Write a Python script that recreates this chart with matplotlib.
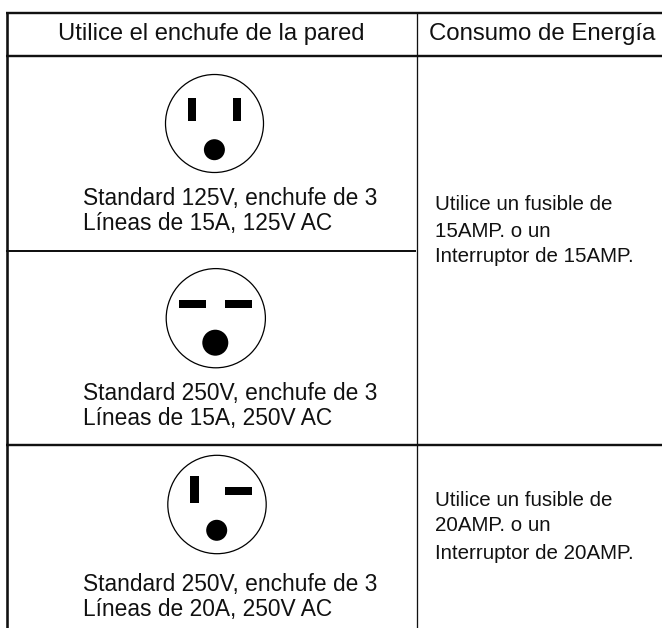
import matplotlib.pyplot as plt
from matplotlib.patches import Circle, Rectangle

plt.rc('font', family='Liberation Sans')

## data (all in picture pixels, y going down)
header_labels = ["Utilice el enchufe de la pared", "Consumo de Energía"]
header_x = [58, 429]
header_sizes = [17.1, 17.25]
header_y = 40

socket_labels = [
    ["Standard 125V, enchufe de 3", "Líneas de 15A, 125V AC"],
    ["Standard 250V, enchufe de 3", "Líneas de 15A, 250V AC"],
    ["Standard 250V, enchufe de 3", "Líneas de 20A, 250V AC"],
]
socket_label_y = [(205.5, 230.2), (400.3, 425.5), (590.8, 616)]

fuse_labels = [
    ["Utilice un fusible de", "15AMP. o un", "Interruptor de 15AMP."],
    ["Utilice un fusible de", "20AMP. o un", "Interruptor de 20AMP."],
]
fuse_label_y = [(209.8, 237.2, 262), (505.8, 531.3, 559)]

# outer circle: x, y, r
faces = [(214.5, 123.5, 49), (215.8, 318.2, 49.6), (217, 504.5, 49.2)]
# ground pin: x, y, r
grounds = [(214.4, 149.7, 10.5), (215.3, 342.7, 13), (216.7, 530.3, 10.5)]
# blades: x0, y0, x1, y1
blades = [
    (188, 98, 196, 120.7), (233, 98, 241, 120.7),
    (179, 300.3, 206.3, 308.3), (225, 300.3, 252.3, 308.3),
    (190.3, 476, 198.7, 503.3), (225, 487.3, 252.3, 495.3),
]

# x0, x1, y, width
h_lines = [(6, 662, 12.5, 2.4), (6, 662, 55.5, 2.4), (6, 416, 250.5, 2.0), (6, 662, 444.7, 2.4)]
# x, y0, y1, width
v_lines = [(7.2, 12, 628, 2.6), (416.5, 13, 628, 1.3)]

fig = plt.figure(figsize=(6.62, 6.28), dpi=100)
ax = fig.add_axes([0, 0, 1, 1])
ax.set_xlim(0, 662)
ax.set_ylim(628, 0)
ax.axis('off')

for x0, x1, y, w in h_lines:
    ax.plot([x0, x1], [y, y], color='#111111', linewidth=w * 0.72, solid_capstyle='butt')
for x, y0, y1, w in v_lines:
    ax.plot([x, x], [y0, y1], color='#111111', linewidth=w * 0.72, solid_capstyle='butt')

for x, y, r in faces:
    ax.add_patch(Circle((x, y), r, facecolor='white', edgecolor='black', linewidth=0.9))
for x, y, r in grounds:
    ax.add_patch(Circle((x, y), r, facecolor='black', edgecolor='none'))
for x0, y0, x1, y1 in blades:
    ax.add_patch(Rectangle((x0, y0), x1 - x0, y1 - y0, facecolor='black', edgecolor='none'))

for label, x, size in zip(header_labels, header_x, header_sizes):
    ax.text(x, header_y, label, fontsize=size, color='#111111', va='baseline')
for lines, ys in zip(socket_labels, socket_label_y):
    for line, y in zip(lines, ys):
        ax.text(83, y, line, fontsize=16.4, color='#111111', va='baseline')
for lines, ys in zip(fuse_labels, fuse_label_y):
    for line, y in zip(lines, ys):
        ax.text(435, y, line, fontsize=14.8, color='#111111', va='baseline')

plt.savefig("out.png", dpi=100)
